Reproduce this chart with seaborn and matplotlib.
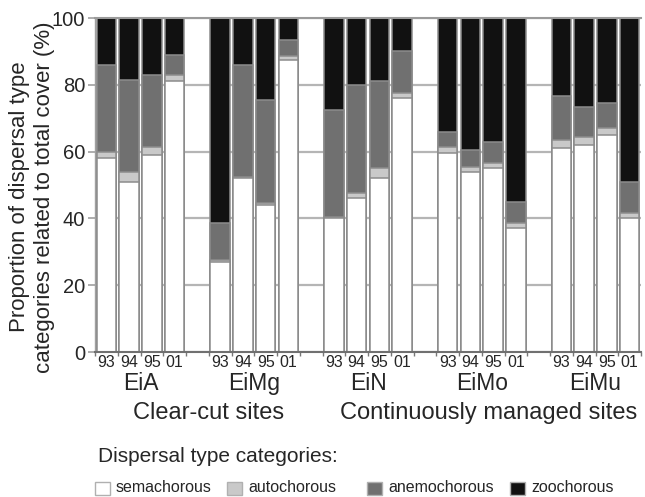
import numpy as np
import pandas as pd
import matplotlib
matplotlib.use("Agg")
import matplotlib.pyplot as plt
import matplotlib.transforms as mtransforms
from matplotlib.patches import Rectangle
import seaborn as sns

SITES = ["EiA", "EiMg", "EiN", "EiMo", "EiMu"]
YEARS = ["93", "94", "95", "01"]

# values, per site, years 93/94/95/01 (% of total cover)
semachorous = [58, 51, 59, 81, 27, 52, 44, 87.5, 40, 46, 52, 76,
               59.5, 54, 55, 37, 61, 62, 65, 40]
autochorous = [2, 3, 2.5, 2, 0.5, 0.5, 0.5, 1, 0.5, 1.5, 3, 1.5,
               2, 1.5, 1.5, 1.5, 2.5, 2.5, 2, 1.5]
anemochorous = [26, 27.5, 21.5, 6, 11, 33.5, 31, 5, 32, 32.5, 26, 12.5,
                4.5, 5, 6.5, 6.5, 13, 9, 7.5, 9.5]
zoochorous = [14, 18.5, 17, 11, 61.5, 14, 24.5, 6.5, 27.5, 20, 19, 10,
              34, 39.5, 37, 55, 23.5, 26.5, 25.5, 49]

CATEGORIES = ["semachorous", "autochorous", "anemochorous", "zoochorous"]
COLORS = ["#ffffff", "#c9c9c9", "#707070", "#111111"]
EDGE = "#8c8c8c"


def build_frame():
    slots = [f"{s} {y}" for s in SITES for y in YEARS]
    df = pd.DataFrame({
        "slot": slots,
        "semachorous": semachorous,
        "autochorous": autochorous,
        "anemochorous": anemochorous,
        "zoochorous": zoochorous,
    })
    # cumulative tops for stacking
    stack = df[CATEGORIES].cumsum(axis=1)
    for c in CATEGORIES:
        df[c + "_top"] = stack[c]
    return df


def main():
    df = build_frame()

    # one empty slot between site groups
    order = []
    for i, s in enumerate(SITES):
        order += [f"{s} {y}" for y in YEARS]
        if i < len(SITES) - 1:
            order.append(f"gap{i}")

    sns.set_theme(style="white")
    plt.rcParams["font.family"] = ["Liberation Sans", "DejaVu Sans"]

    fig = plt.figure(figsize=(6.45, 4.97), dpi=100)
    ax = fig.add_axes([95 / 645, 1 - 352 / 497, 546 / 645, 334 / 497])

    # draw from the top layer down so lower segments sit over it
    for cat, col in zip(reversed(CATEGORIES), reversed(COLORS)):
        sns.barplot(data=df, x="slot", y=cat + "_top", order=order, color=col,
                    saturation=1, width=0.85, errorbar=None,
                    edgecolor=EDGE, linewidth=1.1, ax=ax)

    ax.set_xlim(-0.5, len(order) - 0.5)
    ax.set_ylim(0, 100)
    ax.set_xlabel("")
    ax.set_ylabel("")

    bar_pos = [order.index(s) for s in df["slot"]]
    ax.set_xticks(bar_pos, labels=YEARS * len(SITES))
    ax.set_xticks(np.arange(len(order) + 1) - 0.5, minor=True)
    ax.tick_params(axis="x", which="major", length=0, pad=2.5, labelsize=11.5)
    ax.tick_params(axis="x", which="minor", length=3, width=1, color="#777777", bottom=True)
    ax.set_yticks([0, 20, 40, 60, 80, 100])
    ax.tick_params(axis="y", length=5, width=1.2, color="#a0a0a0", labelsize=14.5, pad=2, left=True)

    ax.set_axisbelow(True)
    ax.yaxis.grid(True, color="#b5b5b5", linewidth=1.6)
    ax.xaxis.grid(False)

    ax.spines["right"].set_visible(False)
    ax.spines["top"].set_color("#9a9a9a")
    ax.spines["top"].set_linewidth(1.5)
    ax.spines["left"].set_color("#a0a0a0")
    ax.spines["left"].set_linewidth(1.0)
    ax.spines["bottom"].set_color("#707070")
    ax.spines["bottom"].set_linewidth(1.5)

    trans = mtransforms.blended_transform_factory(ax.transData, ax.transAxes)
    for s in SITES:
        idx = [order.index(f"{s} {y}") for y in YEARS]
        ax.text(np.mean(idx), -0.095, s, transform=trans, ha="center", va="center", fontsize=16.5)

    ax.text(4.5, -0.182, "Clear-cut sites", transform=trans, ha="center", va="center", fontsize=17)
    ax.text(16.8, -0.182, "Continuously managed sites", transform=trans,
            ha="center", va="center", fontsize=17)

    fig.text(32 / 645, 1 - 197 / 497,
             "Proportion of dispersal type\ncategories related to total cover (%)",
             rotation=90, ha="center", va="center", fontsize=16, linespacing=1.25)

    # legend
    fig.text(98 / 645, 1 - 457 / 497, "Dispersal type categories:", ha="left", va="center", fontsize=15)
    box_x = [95, 227, 367, 510]
    for x0, cat, col in zip(box_x, CATEGORIES, COLORS):
        fig.patches.append(Rectangle((x0 / 645, 1 - 495 / 497), 15 / 645, 13 / 497,
                                     transform=fig.transFigure, facecolor=col,
                                     edgecolor="#b0b0b0", linewidth=1.0))
        fig.text((x0 + 21) / 645, 1 - 488 / 497, cat, ha="left", va="center", fontsize=11.5)

    fig.savefig("out.png", dpi=100)


if __name__ == "__main__":
    main()
